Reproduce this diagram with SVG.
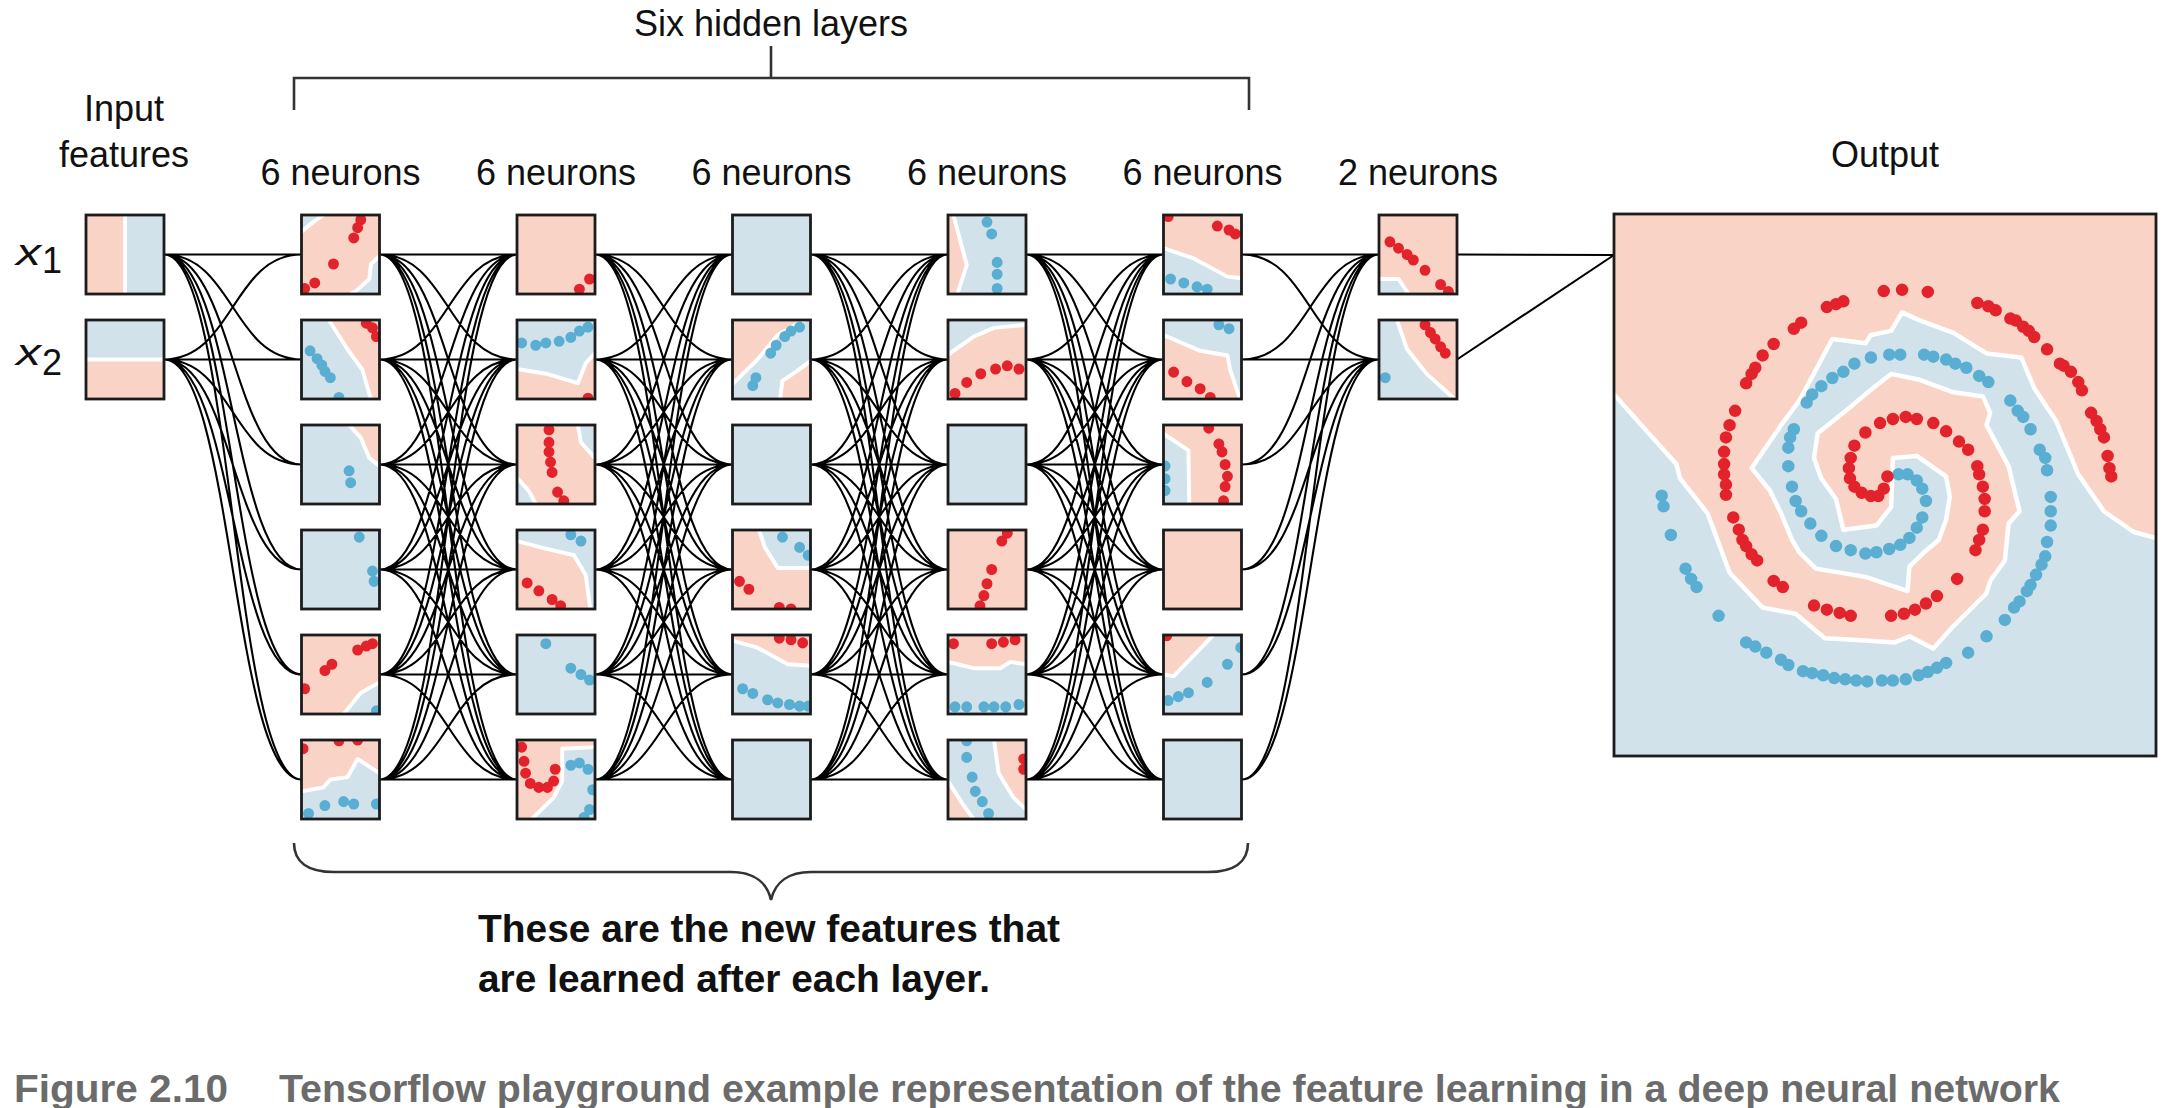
<svg xmlns="http://www.w3.org/2000/svg" width="2172" height="1108" viewBox="0 0 2172 1108">
<style>
.t{font-family:"Liberation Sans",Arial,sans-serif;font-size:36px;fill:#111}
.tb{font-family:"Liberation Sans",Arial,sans-serif;font-size:38px;font-weight:700;fill:#111}
.cap{font-family:"Liberation Sans",Arial,sans-serif;font-size:39px;font-weight:700;fill:#6b6b6b}
.bx{fill:none;stroke:#1c1c1c;stroke-width:2.8}
.pk{fill:#f9d4c6}
.bl{fill:#d2e2eb}
.rp{fill:#f9d4c6;stroke:#fff;stroke-width:5;stroke-linejoin:round}
.rb{fill:#d2e2eb;stroke:#fff;stroke-width:5;stroke-linejoin:round}
.dr{fill:none;stroke:#e3232b;stroke-width:14;stroke-linecap:round}
.db{fill:none;stroke:#5aaed2;stroke-width:14;stroke-linecap:round}
.rbo{fill:#d2e2eb;stroke:#fff;stroke-width:4.5;stroke-linejoin:round;vector-effect:non-scaling-stroke}
.dro{fill:none;stroke:#e3232b;stroke-width:12.5;stroke-linecap:round;vector-effect:non-scaling-stroke}
.dbo{fill:none;stroke:#5aaed2;stroke-width:12.5;stroke-linecap:round;vector-effect:non-scaling-stroke}
.cn{fill:none;stroke:#000;stroke-width:2.1}
.br{fill:none;stroke:#333;stroke-width:2.6}
</style>
<defs>
<clipPath id="cb" clipPathUnits="userSpaceOnUse"><rect width="100" height="100"/></clipPath>
<clipPath id="co" clipPathUnits="userSpaceOnUse"><rect x="35" y="205" width="1477" height="1322"/></clipPath>
<path id="b6" d="M0 254.5c68.75 0 68.75 0 137.5 0M0 254.5c68.75 0 68.75 105 137.5 105M0 254.5c68.75 0 68.75 210 137.5 210M0 254.5c68.75 0 68.75 315 137.5 315M0 254.5c68.75 0 68.75 420 137.5 420M0 254.5c68.75 0 68.75 525 137.5 525
M0 359.5c68.75 0 68.75 -105 137.5 -105M0 359.5c68.75 0 68.75 0 137.5 0M0 359.5c68.75 0 68.75 105 137.5 105M0 359.5c68.75 0 68.75 210 137.5 210M0 359.5c68.75 0 68.75 315 137.5 315M0 359.5c68.75 0 68.75 420 137.5 420
M0 464.5c68.75 0 68.75 -210 137.5 -210M0 464.5c68.75 0 68.75 -105 137.5 -105M0 464.5c68.75 0 68.75 0 137.5 0M0 464.5c68.75 0 68.75 105 137.5 105M0 464.5c68.75 0 68.75 210 137.5 210M0 464.5c68.75 0 68.75 315 137.5 315
M0 569.5c68.75 0 68.75 -315 137.5 -315M0 569.5c68.75 0 68.75 -210 137.5 -210M0 569.5c68.75 0 68.75 -105 137.5 -105M0 569.5c68.75 0 68.75 0 137.5 0M0 569.5c68.75 0 68.75 105 137.5 105M0 569.5c68.75 0 68.75 210 137.5 210
M0 674.5c68.75 0 68.75 -420 137.5 -420M0 674.5c68.75 0 68.75 -315 137.5 -315M0 674.5c68.75 0 68.75 -210 137.5 -210M0 674.5c68.75 0 68.75 -105 137.5 -105M0 674.5c68.75 0 68.75 0 137.5 0M0 674.5c68.75 0 68.75 105 137.5 105
M0 779.5c68.75 0 68.75 -525 137.5 -525M0 779.5c68.75 0 68.75 -420 137.5 -420M0 779.5c68.75 0 68.75 -315 137.5 -315M0 779.5c68.75 0 68.75 -210 137.5 -210M0 779.5c68.75 0 68.75 -105 137.5 -105M0 779.5c68.75 0 68.75 0 137.5 0"/>
</defs>
<rect width="2172" height="1108" fill="#fff"/>

<g id="connectors" class="cn">
<path d="M164 254.5c68.75 0 68.75 0 137.5 0M164 254.5c68.75 0 68.75 105 137.5 105M164 254.5c68.75 0 68.75 210 137.5 210M164 254.5c68.75 0 68.75 315 137.5 315M164 254.5c68.75 0 68.75 420 137.5 420M164 254.5c68.75 0 68.75 525 137.5 525
M164 359.5c68.75 0 68.75 -105 137.5 -105M164 359.5c68.75 0 68.75 0 137.5 0M164 359.5c68.75 0 68.75 105 137.5 105M164 359.5c68.75 0 68.75 210 137.5 210M164 359.5c68.75 0 68.75 315 137.5 315M164 359.5c68.75 0 68.75 420 137.5 420"/>
<use href="#b6" x="379.5"/>
<use href="#b6" x="595"/>
<use href="#b6" x="810.5"/>
<use href="#b6" x="1026"/>
<path d="M1241.5 254.5c68.75 0 68.75 0 137.5 0M1241.5 254.5c68.75 0 68.75 105 137.5 105
M1241.5 359.5c68.75 0 68.75 -105 137.5 -105M1241.5 359.5c68.75 0 68.75 0 137.5 0
M1241.5 464.5c68.75 0 68.75 -210 137.5 -210M1241.5 464.5c68.75 0 68.75 -105 137.5 -105
M1241.5 569.5c68.75 0 68.75 -315 137.5 -315M1241.5 569.5c68.75 0 68.75 -210 137.5 -210
M1241.5 674.5c68.75 0 68.75 -420 137.5 -420M1241.5 674.5c68.75 0 68.75 -315 137.5 -315
M1241.5 779.5c68.75 0 68.75 -525 137.5 -525M1241.5 779.5c68.75 0 68.75 -420 137.5 -420"/>
<path d="M1457 254.5L1614 255M1457 359.5L1614 255"/>
</g>

<g id="labels">
<text class="t" x="771" y="36" text-anchor="middle">Six hidden layers</text>
<text class="t" x="124" y="121" text-anchor="middle">Input</text>
<text class="t" x="124" y="167" text-anchor="middle">features</text>
<text class="t" x="340.5" y="185" text-anchor="middle">6 neurons</text>
<text class="t" x="556" y="185" text-anchor="middle">6 neurons</text>
<text class="t" x="771.5" y="185" text-anchor="middle">6 neurons</text>
<text class="t" x="987" y="185" text-anchor="middle">6 neurons</text>
<text class="t" x="1202.5" y="185" text-anchor="middle">6 neurons</text>
<text class="t" x="1418" y="185" text-anchor="middle">2 neurons</text>
<text class="t" x="1885" y="167" text-anchor="middle">Output</text>
<text class="t" x="16" y="265" font-size="40" font-style="italic" textLength="25" lengthAdjust="spacingAndGlyphs">x</text>
<text class="t" x="42" y="273" font-size="28">1</text>
<text class="t" x="16" y="365" font-size="40" font-style="italic" textLength="25" lengthAdjust="spacingAndGlyphs">x</text>
<text class="t" x="42" y="375" font-size="28">2</text>
<text class="tb" x="478" y="942" textLength="582" lengthAdjust="spacingAndGlyphs">These are the new features that</text>
<text class="tb" x="478" y="992" textLength="512" lengthAdjust="spacingAndGlyphs">are learned after each layer.</text>
<text class="cap" x="14" y="1102" textLength="214" lengthAdjust="spacingAndGlyphs">Figure 2.10</text>
<text class="cap" x="279" y="1102" textLength="1781" lengthAdjust="spacingAndGlyphs">Tensorflow playground example representation of the feature learning in a deep neural network</text>
</g>

<g id="brackets" class="br">
<path d="M294 110V78H1249V110M771 78V46"/>
<path d="M294 843C294 862 308 872 334 872H731C753 872 767 882 771 900C775 882 789 872 811 872H1208C1234 872 1248 862 1248 843"/>
</g>

<g id="in-x1" transform="translate(86,215)"><g transform="scale(0.78,0.79)" clip-path="url(#cb)"><rect class="pk" width="100" height="100"/><polygon class="rb" points="50,-10 110,-10 110,110 50,110"/></g><rect class="bx" width="78" height="79"/></g>
<g id="in-x2" transform="translate(86,320)"><g transform="scale(0.78,0.79)" clip-path="url(#cb)"><rect class="pk" width="100" height="100"/><polygon class="rb" points="-10,-10 110,-10 110,50 -10,50"/></g><rect class="bx" width="78" height="79"/></g>

<g id="h1-1" transform="translate(301.5,215)"><g transform="scale(0.78,0.79)" clip-path="url(#cb)"><rect class="pk" width="100" height="100"/><polygon class="rb" points="-10,-10 28,-10 28,0 15,9 0,21 -10,21"/><polygon class="rb" points="110,52 100,52 89,62 87,81 70,96 63,100 63,110 110,110"/><path class="dr" d="M76 6h0M72 16h0M67 29h0M41 62h0M17 86h0M4 93h0"/></g><rect class="bx" width="78" height="79"/></g>
<g id="h1-2" transform="translate(301.5,320)"><g transform="scale(0.78,0.79)" clip-path="url(#cb)"><rect class="bl" width="100" height="100"/><polygon class="rp" points="35,-10 35,0 59,37 78,63 89,100 89,110 110,110 110,-10"/><path class="dr" d="M83 4h0M91 10h0M96 21h0"/><path class="db" d="M11 39h0M20 49h0M26 57h0M30 65h0M37 73h0M48 98h0"/></g><rect class="bx" width="78" height="79"/></g>
<g id="h1-3" transform="translate(301.5,425)"><g transform="scale(0.78,0.79)" clip-path="url(#cb)"><rect class="bl" width="100" height="100"/><polygon class="rp" points="61,-10 61,0 76,16 87,42 100,52 110,52 110,-10"/><path class="db" d="M61 58h0M63 73h0"/></g><rect class="bx" width="78" height="79"/></g>
<g id="h1-4" transform="translate(301.5,530)"><g transform="scale(0.78,0.79)" clip-path="url(#cb)"><rect class="bl" width="100" height="100"/><path class="db" d="M74 9h0M91 52h0M93 65h0"/></g><rect class="bx" width="78" height="79"/></g>
<g id="h1-5" transform="translate(301.5,635)"><g transform="scale(0.78,0.79)" clip-path="url(#cb)"><rect class="pk" width="100" height="100"/><polygon class="rb" points="54,110 54,100 76,73 100,60 110,60 110,110"/><path class="dr" d="M4 68h0M30 45h0M39 37h0M72 19h0M83 14h0M91 11h0"/><path class="db" d="M96 96h0"/></g><rect class="bx" width="78" height="79"/></g>
<g id="h1-6" transform="translate(301.5,740)"><g transform="scale(0.78,0.79)" clip-path="url(#cb)"><rect class="pk" width="100" height="100"/><polygon class="rb" points="-10,65 0,65 28,60 37,50 59,47 72,24 100,42 110,42 110,110 -10,110"/><path class="dr" d="M2 11h0M48 1h0M72 0h0"/><path class="db" d="M9 93h0M30 83h0M54 78h0M67 81h0M96 81h0"/></g><rect class="bx" width="78" height="79"/></g>

<g id="h2-1" transform="translate(517,215)"><g transform="scale(0.78,0.79)" clip-path="url(#cb)"><rect class="pk" width="100" height="100"/><path class="dr" d="M93 81h0M80 94h0"/></g><rect class="bx" width="78" height="79"/></g>
<g id="h2-2" transform="translate(517,320)"><g transform="scale(0.78,0.79)" clip-path="url(#cb)"><rect class="pk" width="100" height="100"/><polygon class="rb" points="-10,-10 110,-10 110,42 100,42 88,55 78,80 37,68 0,62 -10,62"/><path class="db" d="M6 29h0M24 32h0M37 29h0M54 27h0M69 22h0M80 14h0M91 9h0"/><path class="dr" d="M91 99h0"/></g><rect class="bx" width="78" height="79"/></g>
<g id="h2-3" transform="translate(517,425)"><g transform="scale(0.78,0.79)" clip-path="url(#cb)"><rect class="pk" width="100" height="100"/><polygon class="rb" points="78,-10 78,0 82,22 100,42 110,42 110,-10"/><polygon class="rb" points="-10,67 0,67 15,83 24,100 24,110 -10,110"/><path class="dr" d="M41 6h0M41 22h0M41 34h0M43 47h0M45 60h0M52 85h0M60 96h0"/></g><rect class="bx" width="78" height="79"/></g>
<g id="h2-4" transform="translate(517,530)"><g transform="scale(0.78,0.79)" clip-path="url(#cb)"><rect class="pk" width="100" height="100"/><polygon class="rb" points="-10,-10 110,-10 110,110 94,110 94,100 88,57 73,32 34,23 0,14 -10,14"/><path class="db" d="M69 6h0M82 14h0"/><path class="dr" d="M13 67h0M28 77h0M45 88h0M56 96h0"/></g><rect class="bx" width="78" height="79"/></g>
<g id="h2-5" transform="translate(517,635)"><g transform="scale(0.78,0.79)" clip-path="url(#cb)"><rect class="bl" width="100" height="100"/><path class="db" d="M37 11h0M69 42h0M82 50h0M93 57h0"/></g><rect class="bx" width="78" height="79"/></g>
<g id="h2-6" transform="translate(517,740)"><g transform="scale(0.78,0.79)" clip-path="url(#cb)"><rect class="pk" width="100" height="100"/><polygon class="rb" points="110,9 100,9 58,11 58,52 47,73 19,100 19,110 110,110"/><path class="dr" d="M6 9h0M9 27h0M11 42h0M17 55h0M28 60h0M39 60h0M47 52h0M49 37h0"/><path class="db" d="M69 32h0M80 29h0M91 37h0M97 63h0M93 88h0M86 98h0"/></g><rect class="bx" width="78" height="79"/></g>

<g id="h3-1" transform="translate(732.5,215)"><g transform="scale(0.78,0.79)" clip-path="url(#cb)"><rect class="bl" width="100" height="100"/></g><rect class="bx" width="78" height="79"/></g>
<g id="h3-2" transform="translate(732.5,320)"><g transform="scale(0.78,0.79)" clip-path="url(#cb)"><rect class="pk" width="100" height="100"/><polygon class="rb" points="-10,88 0,81 32,50 58,19 90,1 100,-6 110,-10 110,52 100,52 82,65 64,77 61,100 61,110 -10,110"/><path class="db" d="M30 73h0M26 83h0M49 42h0M56 32h0M67 21h0M75 14h0M86 9h0"/></g><rect class="bx" width="78" height="79"/></g>
<g id="h3-3" transform="translate(732.5,425)"><g transform="scale(0.78,0.79)" clip-path="url(#cb)"><rect class="bl" width="100" height="100"/></g><rect class="bx" width="78" height="79"/></g>
<g id="h3-4" transform="translate(732.5,530)"><g transform="scale(0.78,0.79)" clip-path="url(#cb)"><rect class="pk" width="100" height="100"/><polygon class="rb" points="34,-10 34,0 41,21 58,48 100,48 110,48 110,-10"/><path class="db" d="M64 9h0M86 22h0M97 32h0"/><path class="dr" d="M9 65h0M21 75h0M60 98h0M75 100h0"/></g><rect class="bx" width="78" height="79"/></g>
<g id="h3-5" transform="translate(732.5,635)"><g transform="scale(0.78,0.79)" clip-path="url(#cb)"><rect class="pk" width="100" height="100"/><polygon class="rb" points="-10,7 0,7 32,16 71,37 100,39 110,39 110,110 -10,110"/><path class="dr" d="M60 4h0M75 6h0M90 10h0"/><path class="db" d="M13 68h0M26 74h0M45 82h0M58 86h0M73 88h0M86 90h0M97 90h0"/></g><rect class="bx" width="78" height="79"/></g>
<g id="h3-6" transform="translate(732.5,740)"><g transform="scale(0.78,0.79)" clip-path="url(#cb)"><rect class="bl" width="100" height="100"/></g><rect class="bx" width="78" height="79"/></g>

<g id="h4-1" transform="translate(948,215)"><g transform="scale(0.78,0.79)" clip-path="url(#cb)"><rect class="bl" width="100" height="100"/><polygon class="rp" points="-10,-10 7,-10 7,0 16,34 24,63 12,100 12,110 -10,110"/><path class="db" d="M50 9h0M56 24h0M63 60h0M63 75h0M63 93h0"/></g><rect class="bx" width="78" height="79"/></g>
<g id="h4-2" transform="translate(948,320)"><g transform="scale(0.78,0.79)" clip-path="url(#cb)"><rect class="pk" width="100" height="100"/><polygon class="rb" points="-10,-10 110,-10 110,6 100,6 59,10 33,21 0,44 -10,44"/><path class="dr" d="M9 93h0M24 79h0M42 68h0M61 62h0M76 58h0M91 62h0"/></g><rect class="bx" width="78" height="79"/></g>
<g id="h4-3" transform="translate(948,425)"><g transform="scale(0.78,0.79)" clip-path="url(#cb)"><rect class="bl" width="100" height="100"/></g><rect class="bx" width="78" height="79"/></g>
<g id="h4-4" transform="translate(948,530)"><g transform="scale(0.78,0.79)" clip-path="url(#cb)"><rect class="pk" width="100" height="100"/><path class="dr" d="M76 4h0M69 14h0M56 50h0M50 68h0M46 83h0M41 96h0"/></g><rect class="bx" width="78" height="79"/></g>
<g id="h4-5" transform="translate(948,635)"><g transform="scale(0.78,0.79)" clip-path="url(#cb)"><rect class="pk" width="100" height="100"/><polygon class="rb" points="-10,34 0,34 33,42 67,42 80,34 100,37 110,37 110,110 -10,110"/><path class="dr" d="M7 11h0M56 11h0M71 9h0M86 6h0"/><path class="db" d="M9 91h0M24 91h0M46 91h0M59 91h0M74 91h0M91 88h0"/></g><rect class="bx" width="78" height="79"/></g>
<g id="h4-6" transform="translate(948,740)"><g transform="scale(0.78,0.79)" clip-path="url(#cb)"><rect class="bl" width="100" height="100"/><polygon class="rp" points="59,-10 59,0 65,42 84,73 100,88 110,88 110,-10"/><polygon class="rp" points="-10,52 0,52 20,83 33,100 33,110 -10,110"/><path class="dr" d="M97 24h0M97 37h0"/><path class="db" d="M24 1h0M24 22h0M31 47h0M35 65h0M44 78h0M52 93h0"/></g><rect class="bx" width="78" height="79"/></g>

<g id="h5-1" transform="translate(1163.5,215)"><g transform="scale(0.78,0.79)" clip-path="url(#cb)"><rect class="pk" width="100" height="100"/><polygon class="rb" points="-10,42 0,42 39,55 82,78 100,80 110,80 110,110 -10,110"/><path class="dr" d="M6 2h0M69 14h0M84 19h0M92 24h0"/><path class="db" d="M9 81h0M26 86h0M43 91h0M56 94h0"/></g><rect class="bx" width="78" height="79"/></g>
<g id="h5-2" transform="translate(1163.5,320)"><g transform="scale(0.78,0.79)" clip-path="url(#cb)"><rect class="pk" width="100" height="100"/><polygon class="rb" points="-10,19 0,19 47,39 82,45 86,65 98,100 98,110 110,110 110,-10 -10,-10"/><path class="dr" d="M13 66h0M30 78h0M47 87h0M60 98h0"/><path class="db" d="M71 6h0M84 11h0"/></g><rect class="bx" width="78" height="79"/></g>
<g id="h5-3" transform="translate(1163.5,425)"><g transform="scale(0.78,0.79)" clip-path="url(#cb)"><rect class="pk" width="100" height="100"/><polygon class="rb" points="-10,11 0,11 32,32 33,100 33,110 -10,110"/><path class="dr" d="M58 4h0M71 24h0M75 34h0M79 50h0M82 65h0M79 78h0M77 96h0"/><path class="db" d="M2 52h0M2 68h0M2 83h0"/></g><rect class="bx" width="78" height="79"/></g>
<g id="h5-4" transform="translate(1163.5,530)"><g transform="scale(0.78,0.79)" clip-path="url(#cb)"><rect class="pk" width="100" height="100"/></g><rect class="bx" width="78" height="79"/></g>
<g id="h5-5" transform="translate(1163.5,635)"><g transform="scale(0.78,0.79)" clip-path="url(#cb)"><rect class="bl" width="100" height="100"/><polygon class="rp" points="-10,-10 64,-10 64,0 13,52 0,50 -10,50"/><path class="dr" d="M4 1h0"/><path class="db" d="M6 83h0M19 78h0M32 73h0M56 60h0M82 37h0M99 16h0"/></g><rect class="bx" width="78" height="79"/></g>
<g id="h5-6" transform="translate(1163.5,740)"><g transform="scale(0.78,0.79)" clip-path="url(#cb)"><rect class="bl" width="100" height="100"/></g><rect class="bx" width="78" height="79"/></g>

<g id="o-1" transform="translate(1379,215)"><g transform="scale(0.78,0.79)" clip-path="url(#cb)"><rect class="pk" width="100" height="100"/><polygon class="rb" points="-10,81 0,81 25,81 38,100 38,110 -10,110"/><path class="dr" d="M14 34h0M25 42h0M36 50h0M44 57h0M59 70h0M79 88h0M89 97h0"/></g><rect class="bx" width="78" height="79"/></g>
<g id="o-2" transform="translate(1379,320)"><g transform="scale(0.78,0.79)" clip-path="url(#cb)"><rect class="bl" width="100" height="100"/><polygon class="rp" points="23,-10 23,0 36,37 61,68 96,99 105,105 110,110 110,-10"/><path class="dr" d="M59 6h0M66 16h0M72 24h0M79 34h0M85 42h0"/><path class="db" d="M8 73h0"/></g><rect class="bx" width="78" height="79"/></g>

<g id="output">
<g transform="translate(1614,214) scale(0.367,0.41) translate(-35,-205)" clip-path="url(#co)">
<rect class="pk" x="35" y="205" width="1477" height="1322"/>
<polygon class="rbo" points="20,630 35,645 190,800 205,815 215,850 290,935 350,1080 440,1165 530,1180 610,1240 720,1245 800,1250 840,1235 905,1265 960,1210 1050,1130 1060,1100 1100,1050 1110,960 1140,930 1110,820 1050,720 1060,690 1040,650 960,640 870,610 790,595 740,630 660,690 590,740 580,800 600,850 640,900 660,975 750,965 790,920 795,800 860,795 940,845 950,895 940,950 920,1000 880,1030 840,1065 835,1125 720,1090 585,1070 540,1030 520,1000 490,935 460,880 410,825 490,720 540,660 630,510 720,520 735,500 790,490 820,445 870,465 960,495 1050,545 1145,555 1180,630 1240,710 1300,840 1370,930 1450,980 1510,995 1530,997 1530,1540 20,1540"/>
<path class="dbo" d="M810 840h0M835 840h0M860 855h0M875 875h0M885 905h0M875 945h0M860 970h0M840 995h0M815 1012h0M785 1022h0M750 1030h0M720 1033h0M680 1025h0M640 1015h0M600 990h0M570 960h0M545 930h0M530 905h0M520 870h0M510 820h0M510 775h0M515 750h0M525 730h0M560 665h0M575 645h0M600 625h0M630 605h0M660 590h0M690 570h0M735 555h0M785 548h0M815 548h0M880 548h0M905 553h0M940 560h0M965 570h0M995 580h0M1030 600h0M1055 615h0M1115 660h0M1135 685h0M1150 700h0M1170 730h0M1195 780h0M1210 800h0M1215 830h0M1225 895h0M1225 930h0M1225 965h0M1215 1005h0M1210 1040h0M1200 1060h0M1185 1085h0M1170 1110h0M1160 1125h0M1140 1150h0M1125 1165h0M1100 1195h0M1050 1235h0M1000 1275h0M940 1300h0M915 1312h0M890 1322h0M865 1330h0M830 1340h0M795 1343h0M765 1343h0M725 1345h0M695 1343h0M665 1340h0M635 1337h0M605 1330h0M575 1325h0M550 1320h0M510 1305h0M490 1292h0M450 1275h0M420 1260h0M395 1250h0M320 1185h0M260 1115h0M245 1095h0M230 1070h0M190 988h0M170 918h0M165 892h0"/>
<path class="dro" d="M780 845h0M770 875h0M755 893h0M735 893h0M710 885h0M690 870h0M678 850h0M675 825h0M680 800h0M690 770h0M720 738h0M760 715h0M795 705h0M830 700h0M860 705h0M905 715h0M940 735h0M975 760h0M1000 780h0M1025 820h0M1030 840h0M1040 870h0M1045 900h0M1045 930h0M1040 975h0M1030 1000h0M1020 1025h0M970 1095h0M915 1137h0M885 1155h0M855 1170h0M825 1180h0M790 1185h0M680 1185h0M650 1178h0M615 1170h0M580 1160h0M495 1115h0M470 1100h0M425 1050h0M410 1035h0M395 1015h0M385 1000h0M375 975h0M360 945h0M340 890h0M340 865h0M335 840h0M335 815h0M335 785h0M340 750h0M350 720h0M365 685h0M395 618h0M410 595h0M420 580h0M440 550h0M470 522h0M525 485h0M545 470h0M615 432h0M640 425h0M660 418h0M770 393h0M820 390h0M890 395h0M1025 422h0M1055 430h0M1075 440h0M1115 460h0M1130 465h0M1150 480h0M1165 490h0M1180 505h0M1215 535h0M1250 570h0M1260 575h0M1280 590h0M1300 615h0M1310 635h0M1335 690h0M1350 710h0M1360 730h0M1370 750h0M1380 795h0M1385 825h0M1390 845h0"/>
</g>
<rect class="bx" x="1614" y="214" width="542" height="542"/>
</g>
</svg>
